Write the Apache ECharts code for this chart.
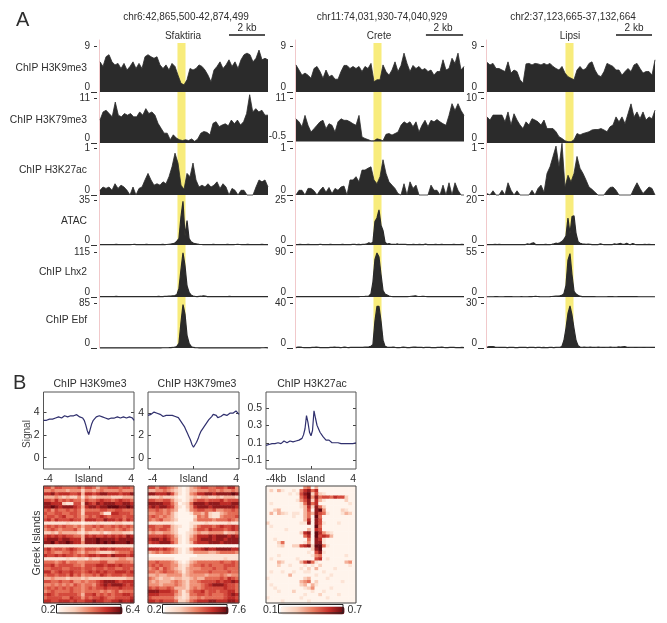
<!DOCTYPE html>
<html><head><meta charset="utf-8">
<style>html,body{margin:0;padding:0;background:#fff}#c{width:667px;height:623px}</style>
<script src="https://cdn.jsdelivr.net/npm/echarts@6/dist/echarts.min.js"></script>
</head><body><div id="c"></div>
<script>
// ---------- Panel A data ----------
const regions = ['chr6:42,865,500-42,874,499','chr11:74,031,930-74,040,929','chr2:37,123,665-37,132,664'];
const islands = ['Sfaktiria','Crete','Lipsi'];
const trackNames = ['ChIP H3K9me3','ChIP H3K79me3','ChIP H3K27ac','ATAC','ChIP Lhx2','ChIP Ebf'];
const trackMax = [[9,11,1,35,115,85],[9,11,1,25,90,40],[9,10,1,20,55,30]];
const trackMin = [[0,0,0,0,0,0],[0,-0.5,0,0,0,0],[0,0,0,0,0,0]];
const islandBands = [[4179,4607],[4179,4607],[4232,4661]];
const scaleBars = [[6910,8840],[6960,8950],[6910,8840]];

const c1K9 = [5.9,5,6.9,7.3,5.9,5.3,5.6,4.6,5.6,4.3,5,5.9,4.6,5.6,4.6,6.9,7.3,6.9,6.6,6.9,5.3,4.6,5.3,4.3,5.6,5,3.3,1.7,1.4,2.4,4.6,4.3,4.6,5.3,5,4.3,3.3,2,4.3,5,5.9,4.6,5.3,6.3,5,5.9,4.6,6.3,7.3,7.6,7.3,5.9,6.6,8.2,6.3,6.6,6.3];
const c1K79 = [5.6,7.6,8,7.2,6.4,10,6.8,6.4,7.2,6.8,7.2,6.4,6.4,7.6,6.8,8.4,7.2,7.6,6.8,4.8,3.6,2.4,2.4,.8,2,1.2,.8,.6,.8,.6,1,.4,1,2.4,2.8,2.6,2,4.8,5.2,4,4.4,4.7,4.2,5.6,4.7,5.6,4.4,5.2,7.2,11.8,7.6,8.4,7.6,8,6.8,6.8];
const c1K27 = [.1,.17,.14,.17,.1,.24,.14,.21,.17,.1,0,.17,0,.14,.17,.32,.46,.32,.21,.24,.21,.28,.24,.39,.6,.89,.68,.21,.12,.46,.39,.68,.32,.17,.21,.17,.24,.17,.21,.28,.14,.24,.17,0,.14,.1,0,.1,.1,0,0,0,.17,.32,.28,.32,.17];
const c1Atac = [.3,.3,.4,.3,.3,.4,.3,.3,.5,.3,
 .3,.4,.3,.3,.3,.3,.4,.5,.3,.3,
 .3,.4,.3,.5,.3,.3,.3,.3,.4,.3,
 .3,.5,.3,.4,.6,.8,1,1.5,3,5,
 22,34,7,19,5,2.5,1.5,1,.8,.5,
 .4,.3,.3,.4,.3,.3,.5,.3,.3,.3,
 .4,.3,.3,.5,.3,.3,.3,.4,.6,.4,
 .3,.3,.3,.5,.3,.3,.4,.3,.3,.3,
 .5,.3,.3,.3];
const c1Lhx2 = [.8,.8,1,.8,.8,.8,1,.8,1.5,.8,
 .8,.8,.8,.8,.8,.8,.8,1,.8,.8,
 .8,.8,.8,1,.8,.8,.8,1,1,1.5,
 1,1,1.5,1.5,2,2.5,3,3.5,6,22,
 70,113,80,28,12,5,2.5,1.5,1,1.5,
 2,3,2.5,1,.8,.8,.8,.8,.8,1,
 .8,.8,.8,.8,1.5,1,.8,.8,.8,.8,
 .8,.8,.8,.8,1,.8,.8,.8,1.2,.8,
 .8,.8,.8,.8];
const c1Ebf = [.4,.4,.5,.4,.4,.5,.4,.4,.4,.4,
 .4,.4,.5,.4,.4,.4,.5,.4,.4,.4,
 .4,.4,.4,.5,.4,.4,.4,.4,.4,.5,
 .4,.5,.5,.5,.6,.8,1,1.5,3,9,
 48,82,64,24,9,3,1,.6,.5,.4,
 .4,.4,.4,.4,.5,.4,.4,.4,.4,.4,
 .4,.5,.4,.4,.4,.4,.4,.5,.4,.4,
 .4,.4,.5,.4,.4,.4,.5,.4,.4,.4,
 .5,.5,.8,.4];

const c2K9 = [5.3,4.3,3.3,3.7,3.3,2.7,4.6,5,4,2.7,4.3,3,3.3,2.5,2.5,4,5.2,5.2,4.6,5,4.6,5,4,5,4.6,5.6,2,2.4,2.4,5.3,4,3.3,4.3,5.9,4,5.2,7.6,5.6,4,5.2,4.6,5,4.3,4.6,4,4.3,3.3,4,4,6.3,4.3,4.6,6.6,5.6,7.6,4.3,5];
const c2K79 = [5.5,4.7,3.4,6.4,3.8,2,2.9,3.8,4.7,5.1,2.9,4.2,3.8,2,4.7,5.5,5.1,5.1,4.7,4.2,3.8,6.4,.7,.3,0,-.3,-.3,.2,0,-.3,1.4,1.6,1.2,1.6,2,3.8,4.7,4.2,4.7,3.4,4.7,2,3.8,5.1,3.4,5.1,4.7,5.3,4.7,4.2,3.8,6.4,9.5,7.7,9.5,7.7,6.4];
const c2K27 = [0,.1,.1,0,.14,.14,.09,0,.1,.17,.06,.16,.03,.14,.1,.17,.19,0,.32,.32,.39,.28,.53,.53,.57,.6,.32,.24,.39,.75,.46,.28,.21,.14,.03,0,.24,0,.28,.14,.21,0,0,0,0,.21,.1,.1,0,.21,0,.26,0,.26,.1,0,0];
const c2Atac = [.2,.2,.3,.2,.2,.2,.3,.2,.2,.2,
 .2,.2,.4,.2,.2,.2,.2,.3,.2,.2,
 .2,.2,.2,.3,.2,.2,.2,.2,.3,.3,
 .2,.3,.2,.3,.4,.6,1.2,.8,1.5,13,
 15,19.5,11,8,1.5,.5,.8,.4,.3,.3,
 .6,.3,.3,.4,.3,.2,.2,.2,.3,.2,
 .2,.3,.2,.2,.5,.2,.2,.2,.2,.3,
 .2,.2,.3,.2,.2,.2,.2,.2,.3,.2,
 .2,.2,.3,.2];
const c2Lhx2 = [.6,.6,.6,.7,.6,.6,.6,.6,.7,.6,
 .6,.6,.6,.6,.6,.6,.7,.6,.6,.6,
 .6,.6,.6,.6,.7,.6,.6,.6,.6,.8,
 .8,.8,1,1,1.2,1.5,2,6,30,75,
 88,80,45,13,6,4,2,1,.8,.7,
 .7,.6,.6,.7,.7,.8,1,1.5,2,2.5,
 1.5,1,1.2,1.5,1,.7,.6,.6,.6,.7,
 .6,.6,.6,.7,.6,.6,.6,.6,.7,.6,
 .6,.6,.6,.6];
const c2Ebf = [.4,.8,.8,.5,.4,.4,.4,.4,.5,.6,
 .8,.6,.4,.4,.4,.4,.4,.5,.6,.8,
 .6,.5,.4,.5,.8,.5,.4,.5,.5,.6,
 .5,.5,.6,.6,.7,.8,1,1.5,3,24,
 37,37,24,7,1.5,.8,.6,.5,.8,.5,
 .4,.4,.5,.8,.6,.4,.4,.6,.7,.8,
 .6,.6,.5,.4,.5,.6,.5,.4,.4,.4,
 .5,.6,.7,.5,.4,.4,.5,.6,.5,.4,
 .4,.4,.6,.4];

const c3K9 = [5.8,5.3,5.6,4.6,4.6,4.3,4,5.9,3.7,4.3,4,2.4,1.7,5.5,5.6,5.3,5.6,5.5,5.3,5.6,5.3,5.6,5,4.6,4.3,5,3.7,3,2.7,2.4,4.3,5,4.3,4.6,5.6,5.9,4.3,3.3,3,4,5.6,5.3,5,4.3,4.3,3.3,4,4.6,4,5.3,5.6,4.6,3.7,4,4,3.3,6.3];
const c3K79 = [5.8,5.1,6.2,6.2,6.2,6.2,4.7,6.9,4,6.5,5.1,4,3.2,4.7,4,5.4,5.1,4.7,4,5.1,3.2,3.2,3.2,2.5,1.4,1,.5,.3,.3,.7,2.1,1.8,2.1,2.3,2.5,2.9,3,3,3.2,2.9,2.5,3.6,4,5.8,4.7,5.8,4.3,6.5,8.7,5.8,6.9,5.4,6.9,5.1,5.8,5.4,7.3];
const c3K27 = [.03,0,.09,0,0,.1,0,.26,.1,0,.09,0,0,0,0,.1,0,.14,.21,.06,.46,.6,.82,1.04,.6,1.1,.17,.42,.28,.46,.82,.57,.46,.32,.17,.12,.06,0,0,0,.09,.16,.17,.1,0,0,0,0,0,.14,.26,.14,.03,.1,.17,.14,0];
const c3Atac = [.2,.2,.2,.2,.3,.2,.3,.2,.2,.2,
 .2,.2,.2,.2,.2,.2,.2,.2,.2,.2,
 .5,.3,.7,1,.2,.2,.2,.2,.2,.3,
 .2,.2,.3,.5,.8,.6,1,1.5,2.5,4,
 12,5,12.6,13,5,1.5,.8,.5,.4,.3,
 .4,.3,.2,.2,.2,.2,.5,.3,.2,.2,
 .2,.2,.2,.5,.3,.5,.7,.3,.3,.8,
 .3,.2,.7,.3,.2,.2,.2,.2,.3,.2,
 .3,.2,.2,.2];
const c3Lhx2 = [.3,.3,.3,.3,.4,.4,.3,.3,.3,.4,
 .5,.5,.4,.3,.3,.3,.3,.4,.3,.3,
 .3,.4,.5,.6,.8,.6,.4,.3,.3,.3,
 .3,.4,.6,.8,1,1.2,1.5,2,4,14,
 45,53,27,7,3.5,2,1,.5,.5,.4,
 .4,.5,.5,.4,.3,.3,.3,.3,.3,.3,
 .4,.4,.4,.3,.3,.4,.5,.5,.5,.4,
 .4,.5,.5,.4,.4,.3,.3,.3,.3,.3,
 .3,.3,.3,.3];
const c3Ebf = [.5,1,1,.9,.6,.5,.4,.4,.4,.4,
 .3,.4,.5,.4,.3,.3,.4,.5,.4,.4,
 .3,.4,.5,.4,.3,.4,.4,.3,.4,.3,
 .3,.4,.4,.3,.4,.5,.5,1,5,13,
 23,28,22,13,5,1.5,.6,.5,.6,.4,
 .5,.6,.4,.4,.5,.6,.5,.4,.4,.5,
 .5,.6,.5,.4,.5,.7,.6,.8,.9,.6,
 .4,.5,.5,.4,.4,.5,.5,.4,.4,.5,
 .5,.4,.5,.4];
const trackData = [
 [c1K9,c1K79,c1K27,c1Atac,c1Lhx2,c1Ebf],
 [c2K9,c2K79,c2K27,c2Atac,c2Lhx2,c2Ebf],
 [c3K9,c3K79,c3K27,c3Atac,c3Lhx2,c3Ebf]];

// ---------- Panel B data ----------
const profileTitles = ['ChIP H3K9me3','ChIP H3K79me3','ChIP H3K27ac'];
const sigK9 = [3.3,3.2,3.3,3.3,3.4,3.4,3.4,3.5,3.5,3.5,3.6,3.6,3.5,3.6,3.7,3.7,3.6,3.7,3.7,3.6,3.7,3.7,3.8,3.7,3.6,3.6,3.5,3.3,2.9,2.4,2.05,2.2,3,3.3,3.4,3.6,3.7,3.7,3.6,3.6,3.5,3.5,3.5,3.4,3.5,3.5,3.4,3.5,3.5,3.6,3.6,3.5,3.5,3.6,3.6,3.5,3.6,3.6,3.7,3.5,3.3];
const sigK79 = [3.8,3.9,3.9,4,4.1,4,4,3.9,3.9,3.8,3.7,3.8,3.8,3.7,3.8,3.9,3.8,3.8,3.7,3.6,3.6,3.4,3.2,3,2.8,2.5,2.2,1.9,1.6,1.2,.95,1.1,1.4,1.7,2.1,2.4,2.6,2.8,3,3.2,3.4,3.5,3.7,3.9,3.9,3.8,3.6,3.6,3.7,3.8,3.9,3.8,3.8,3.9,4,3.9,4,4.1,4.2,4.1,3.9];
const sigK27 = [.07,.08,.08,.09,.09,.08,.09,.09,.1,.1,.09,.1,.12,.11,.1,.11,.12,.11,.11,.12,.12,.12,.13,.14,.15,.19,.26,.41,.33,.22,.18,.24,.465,.38,.3,.26,.22,.2,.17,.15,.13,.12,.13,.11,.1,.11,.1,.11,.1,.09,.09,.1,.09,.08,.09,.08,.09,.1,.09,.1,.1];
const profileData = [sigK9,sigK79,sigK27];
const profileTicks = [[0,2,4],[0,2,4],[-0.1,0.1,0.3,0.5]];
const profileRange = [[-1,5.8],[-1,5.9],[-0.2,0.68]];
const profileX = [['-4','Island','4'],['-4','Island','4'],['-4kb','Island','4']];

const heatK9 = [
"664665 555646 653556 665665","445444 344424 434544 445444","778677 766737 767887 776778","333432 322414 323333 222333",
"665756 565536 556766 567665","887772 116628 768788 877887","889878 887637 887889 998898","564655 656525 555665 566555",
"655665 566526 666411 776665","566567 556535 656765 666566","675766 676637 776687 767576","111111 211101 112111 122111",
"565656 554535 565655 656565","456545 556425 545455 545654","223243 333213 222312 333221","676767 665537 676676 767687",
"788878 877738 889888 878888","889788 987748 889898 988898","111111 111111 111111 111111","675665 676546 665776 766665",
"565445 565435 443222 345556","766767 665656 776776 877767","111111 211221 322333 334433","555456 455445 555664 455554",
"667566 665546 667767 767666","556665 566656 656656 655665","775676 676656 767676 677767","566566 575645 565765 666566",
"334333 233323 222222 222233","665565 564454 556788 876777","445454 546545 546787 888767","565656 565545 656676 667666",
"456555 565545 555454 564555","676566 666536 675656 566776","566665 576646 566765 566667","776677 767667 787766 778778"];
const heatK79 = [
"664665 431013 456655 665774","334454 321013 344455 454454","887778 631014 577887 888898","222322 210012 323322 323332",
"665566 421013 566566 675666","888877 530125 888788 877788","787887 631024 788878 888887","556545 430014 566556 445565",
"445545 310001 443521 134555","565454 310000 254521 145556","545644 320000 355554 555654","111111 100001 111211 111211",
"665566 321001 356665 676676","565665 320002 466576 665676","343344 320012 343344 442334","666676 531013 577787 888787",
"788787 541014 578887 887888","677888 641013 677788 878888","000000 000000 000000 000000","777676 531014 667877 888877",
"345455 431012 444433 455554","000000 000000 011111 111111","111111 100001 111111 112111","556555 431013 455555 565565",
"565655 442124 556565 556665","456465 432134 445556 556555","554565 543134 555565 555655","334334 444234 444344 454344",
"543233 233223 433555 565765","434333 454324 456666 767787","444344 454324 445678 887665","656556 533324 545666 667665",
"888777 653135 667566 566775","777666 643125 566565 556787","655555 532124 454555 556776","776766 652235 677788 777887"];
const heatK27 = [
"000000 000045 030000 000000","020310 010578 570000 000000","000000 101689 262100 000000","000000 000579 485665 766200",
"000000 001468 273100 000200","010000 000158 570000 000010","000000 000137 285200 000000","002300 000036 089400 002100",
"030321 011035 386510 001320","000000 010035 095000 000000","000000 000037 086000 000000","200000 000118 086100 010000",
"010000 000000 095000 000000","000001 000003 076000 000000","000000 000278 097421 000000","000000 000057 096763 000000",
"001000 000005 087100 000000","000250 000014 088100 000000","000120 022678 299510 000000","000000 000000 289000 000000",
"000000 000001 068100 000000","000100 000000 145000 000100","010000 001000 067010 000000","000320 000368 510000 000340",
"000200 100010 102000 000010","000000 000102 030000 100000","010010 010011 000100 000000","000000 300000 010001 000000",
"100000 000023 000010 000000","000000 000345 020000 001000","010000 000230 310000 000000","001000 000012 400001 000000",
"000100 020000 100100 000000","000000 000010 002000 010000","100000 000100 000010 000000","000010 000001 000000 000000"];
const heatRows = [heatK9,heatK79,heatK27];
const heatRange = [[0.2,6.4],[0.2,7.6],[0.1,0.7]];
const heatLabels = [['6.4','0.2'],['7.6','0.2'],['0.7','0.1']];
const heatColors = ['#fff4ec','#f9cdb8','#ec7f63','#c8302a','#650810'];

// ---------- layout ----------
const FONT = '"Liberation Sans",Arial,sans-serif';
const INK = '#2e2e2e';
const colLeft = [100,296,487], colW = 168;
const trackTop = [46,98,148,200,252,303], trackBottom = [92,143,195,245,297,348];
const profLeft = [43.5,148,266], profW = [90.5,91,90];
const barLeft = [57,163,279], labelLeft = [41,147,263];
const rowLabelY = [68,120,170,221,272,320];

const grid=[],xAxis=[],yAxis=[],series=[],visualMap=[],graphic=[];
function addGrid(g,x,ys){ grid.push(g); const i=grid.length-1;
  xAxis.push(Object.assign({gridIndex:i},x));
  ys.forEach(y=>yAxis.push(Object.assign({gridIndex:i},y)));
  return {g:i,x:xAxis.length-1,y:yAxis.length-ys.length}; }
function text(t,x,y,size,opt){ opt=opt||{};
  graphic.push({type:'text',x,y,rotation:opt.rot||0,z:50,silent:true,
    style:{text:t,x:0,y:0,font:`${size}px ${FONT}`,fill:opt.fill||INK,align:opt.align||'center',verticalAlign:'middle'}}); }
const off={show:false};
const noLine={show:false,onZero:false};

// Panel A
colLeft.forEach((left,c)=>{
  let a=addGrid({left:left-1,top:40,width:colW+1,height:308},
    {type:'value',min:0,max:9000,show:false},
    [{type:'value',position:'left',min:0,max:1,axisLine:{show:true,onZero:false,lineStyle:{color:'#f1c9cb',width:1}},axisTick:off,axisLabel:off,splitLine:off}]);
  series.push({type:'line',xAxisIndex:a.x,yAxisIndex:a.y,data:[],z:1,silent:true,
    markArea:{silent:true,itemStyle:{color:'#f8ec7c'},data:[[{xAxis:islandBands[c][0],yAxis:0},{xAxis:islandBands[c][1],yAxis:0.99}]]}});
  let s=addGrid({left:left,top:33,width:colW,height:4},
    {type:'value',min:0,max:9000,show:false},
    [{type:'value',min:-1,max:1,show:false}]);
  series.push({type:'line',xAxisIndex:s.x,yAxisIndex:s.y,symbol:'none',silent:true,lineStyle:{color:'#1a1a1a',width:1.5},
    data:scaleBars[c].map(v=>[v,0])});
  text(regions[c],left+86,17,10);
  text(islands[c],left+83,36,10);
  text('2 kb',left+147,28,10);
  trackData[c].forEach((vals,t)=>{
    const mn=trackMin[c][t],mx=trackMax[c][t];
    const bottom=(c===1&&t===1)?141.5:trackBottom[t];
    let k=addGrid({left:left,top:trackTop[t],width:colW,height:bottom-trackTop[t]},
      {type:'value',min:0,max:vals.length-1,show:false},
      [{type:'value',position:'left',min:mn,max:mx,offset:3,axisLine:noLine,splitLine:off,
        axisTick:{show:true,length:3,customValues:[mx],lineStyle:{color:'#333'}},
        axisLabel:{show:true,customValues:[mn,mx],margin:7,fontFamily:FONT,fontSize:10,color:INK,
          verticalAlignMinLabel:'bottom',verticalAlignMaxLabel:'middle',formatter:v=>String(v)}},
       {type:'value',position:'left',min:mn,max:mx,offset:3,axisLine:noLine,splitLine:off,
        axisTick:{show:true,length:6,customValues:[mn],lineStyle:{color:'#333'}},axisLabel:off}]);
    series.push({type:'line',xAxisIndex:k.x,yAxisIndex:k.y,symbol:'none',silent:true,clip:false,z:3,
      lineStyle:{color:'#2b2b2b',width:t<3?0.8:1.2},
      areaStyle:{color:'#2b2b2b',opacity:1,origin:'start'},
      data:vals.map((v,i)=>[i,v])});
  });
});
trackNames.forEach((n,t)=>text(n,87,rowLabelY[t],10.3,{align:'right'}));
text('A',16,20,20,{align:'left'});
text('B',13,383,20,{align:'left'});

// Panel B profiles
profLeft.forEach((left,p)=>{
  const w=profW[p], r=profileRange[p], vals=profileData[p], lbl=profileX[p];
  let k=addGrid({show:true,left,top:392,width:w,height:77,borderColor:'#555',borderWidth:1,z:3},
    {type:'value',position:'bottom',min:-4,max:4,axisLine:noLine,splitLine:off,
     axisTick:{show:true,inside:true,length:3,customValues:[0],lineStyle:{color:'#444'}},
     axisLabel:{show:true,customValues:[-4,0,4],margin:5,fontFamily:FONT,fontSize:10.5,color:INK,
       alignMinLabel:'left',alignMaxLabel:'right',formatter:v=>v<0?lbl[0]:(v>0?lbl[2]:lbl[1])}},
    [{type:'value',position:'left',min:r[0],max:r[1],axisLine:noLine,splitLine:off,
      axisTick:{show:true,inside:true,length:3,customValues:profileTicks[p],lineStyle:{color:'#444'}},
      axisLabel:{show:true,customValues:profileTicks[p],margin:4,fontFamily:FONT,fontSize:10.5,color:INK,
        formatter:v=>v<0?'\u2212'+Math.abs(v):String(v)}},
     {type:'value',position:'right',min:r[0],max:r[1],axisLine:noLine,splitLine:off,
      axisTick:{show:true,inside:true,length:3,customValues:profileTicks[p],lineStyle:{color:'#444'}},axisLabel:off}]);
  series.push({type:'line',xAxisIndex:k.x,yAxisIndex:k.y,symbol:'none',silent:true,z:4,
    lineStyle:{color:'#30306e',width:1.2},
    data:vals.map((v,i)=>[-4+8*i/(vals.length-1),v])});
  text(profileTitles[p],[90,197,312][p],384,10.5);

  const rows=heatRows[p].map(s=>s.replace(/ /g,''));
  const hr=heatRange[p];
  let h=addGrid({show:true,left,top:486,width:w,height:117,borderColor:'#444',borderWidth:1,z:6,backgroundColor:'transparent'},
    {type:'category',data:rows[0].split('').map((_,i)=>i),show:false},
    [{type:'category',inverse:true,data:rows.map((_,i)=>i),show:false}]);
  const cells=[];
  rows.forEach((row,y)=>row.split('').forEach((d,x)=>cells.push([x,y,hr[0]+(+d)/9*(hr[1]-hr[0])])));
  series.push({type:'heatmap',xAxisIndex:h.x,yAxisIndex:h.y,data:cells,silent:true,z:2,progressive:0,itemStyle:{borderWidth:0}});
  visualMap.push({type:'continuous',seriesIndex:series.length-1,min:hr[0],max:hr[1],orient:'horizontal',
    left:labelLeft[p],top:605,padding:0,itemWidth:8,itemHeight:64,calculable:false,hoverLink:false,realtime:false,
    text:heatLabels[p],textGap:3,textStyle:{fontFamily:FONT,fontSize:10.5,color:INK},
    inRange:{color:heatColors}});
  graphic.push({type:'rect',z:50,silent:true,shape:{x:barLeft[p]-0.5,y:604.5,width:64.5,height:8.5},style:{fill:'none',stroke:'#222',lineWidth:1}});
});
text('Signal',27,434,10,{rot:Math.PI/2,fill:'#444'});
text('Greek Islands',37,543,10.5,{rot:Math.PI/2,fill:'#333'});

const chart=echarts.init(document.getElementById('c'),null,{renderer:'canvas',width:667,height:623});
chart.setOption({animation:false,backgroundColor:'#fff',grid,xAxis,yAxis,series,visualMap,graphic});
</script></body></html>
